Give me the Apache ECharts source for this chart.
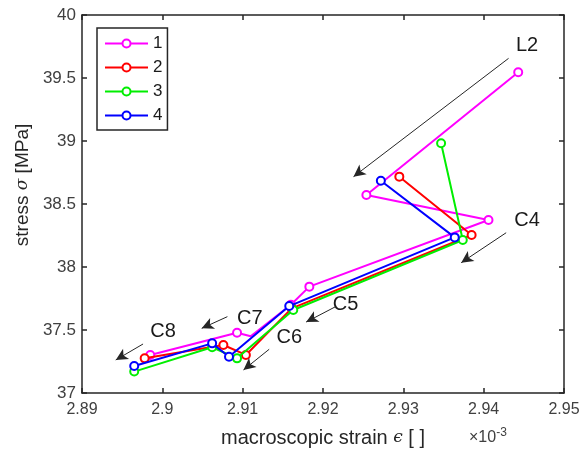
<!DOCTYPE html>
<html>
<head>
<meta charset="utf-8">
<script src="https://cdn.jsdelivr.net/npm/echarts@6/dist/echarts.min.js"></script>
<style>
  html, body { margin: 0; padding: 0; background: #fff; }
  #chart { width: 587px; height: 455px; }
</style>
</head>
<body>
<div id="chart"></div>
<script>
// ── data (strain in units of 1e-3, stress in MPa) ──
const seriesNames = ['1', '2', '3', '4'];
const seriesColors = ['#ff00ff', '#ff0000', '#00ee00', '#0000ff'];

const strain1 = [2.9443, 2.9254, 2.9406, 2.9183, 2.9160, 2.9110, 2.9093, 2.8985];
const stress1 = [39.545, 38.571, 38.373, 37.844, 37.700, 37.450, 37.478, 37.302];
const hidden1 = [5];   // vertex covered by the other curves in the original
const strain2 = [2.9295, 2.9385, 2.9161, 2.9104, 2.9076, 2.8978];
const stress2 = [38.717, 38.254, 37.672, 37.302, 37.381, 37.275];
const strain3 = [2.9347, 2.9374, 2.9163, 2.9093, 2.9062, 2.8965];
const stress3 = [38.982, 38.214, 37.659, 37.275, 37.363, 37.170];
const strain4 = [2.9272, 2.9364, 2.9158, 2.9083, 2.9062, 2.8965];
const stress4 = [38.685, 38.235, 37.690, 37.288, 37.394, 37.214];

// ── annotations (arrows + stage labels, data coords) ──
const annoLabels = ['L2', 'C4', 'C5', 'C6', 'C7', 'C8'];
const annoTextPos = [[2.9454, 39.76], [2.9454, 38.373], [2.9228, 37.706], [2.9158, 37.444], [2.9109, 37.595], [2.9001, 37.492]];
const arrowFrom = [[2.9431, 39.656], [2.9428, 38.272], [2.9215, 37.683], [2.9133, 37.347], [2.9081, 37.606], [2.8976, 37.389]];
const arrowTo   = [[2.9238, 38.717], [2.9372, 38.034], [2.9179, 37.563], [2.9101, 37.183], [2.9049, 37.513], [2.8942, 37.262]];

const axisColor = '#262626';
const fontFam = '"Liberation Sans", Arial, Helvetica, sans-serif';
const greekRich = { i: { fontFamily: '"DejaVu Serif", serif', fontStyle: 'italic', fontSize: 17, color: '#262626' } };

const pairs = [[strain1, stress1], [strain2, stress2], [strain3, stress3], [strain4, stress4]];

const series = pairs.map(([xs, ys], i) => ({
  name: seriesNames[i],
  type: 'line',
  xAxisIndex: 0, yAxisIndex: 0,
  data: xs.map((x, k) => (i === 0 && hidden1.includes(k))
    ? { value: [x, ys[k]], symbol: 'none' }
    : [x, ys[k]]),
  symbol: 'emptyCircle',
  symbolSize: 8,
  lineStyle: { width: 2, color: seriesColors[i] },
  itemStyle: { color: seriesColors[i], borderWidth: 1.6 },
  z: 3 + i,
  animation: false,
}));

// annotation carrier
series.push({
  type: 'line',
  xAxisIndex: 0, yAxisIndex: 0,
  data: [],
  silent: true,
  animation: false,
  markLine: {
    silent: true,
    symbol: ['none', 'arrow'],
    symbolSize: [9, 12],
    lineStyle: { color: '#262626', width: 1, type: 'solid' },
    label: { show: false },
    data: arrowFrom.map((f, i) => [{ coord: f }, { coord: arrowTo[i] }]),
  },
  markPoint: {
    silent: true,
    symbol: 'circle',
    symbolSize: 0,
    label: {
      show: true, position: 'inside', formatter: '{b}',
      color: '#1a1a1a', fontSize: 20, fontFamily: fontFam,
    },
    data: annoLabels.map((t, i) => ({ name: t, coord: annoTextPos[i] })),
  },
});

const fmt = v => String(parseFloat(v.toFixed(2)));

const chart = echarts.init(document.getElementById('chart'));
chart.setOption({
  animation: false,
  textStyle: { fontFamily: fontFam },
  grid: { left: 82, right: 23, top: 15, bottom: 62 },
  legend: {
    data: seriesNames,
    orient: 'vertical',
    left: 97, top: 28,
    itemWidth: 43, itemHeight: 10,
    itemGap: 7,
    padding: [7, 5, 6, 7],
    borderColor: '#262626', borderWidth: 1.5,
    backgroundColor: '#fff',
    textStyle: { color: '#1a1a1a', fontSize: 17, fontFamily: fontFam },
  },
  xAxis: [
    {
      type: 'value', min: 2.89, max: 2.95, interval: 0.01,
      name: 'macroscopic strain {i|ϵ} [ ]',
      nameLocation: 'middle', nameGap: 35,
      nameTextStyle: { color: '#262626', fontSize: 20, rich: greekRich },
      axisLine: { show: true, onZero: false, lineStyle: { color: axisColor, width: 1.5 } },
      axisTick: { show: true, inside: true, length: 5, lineStyle: { color: axisColor, width: 1.5 } },
      axisLabel: { color: '#404040', fontSize: 16, margin: 9, formatter: fmt },
      splitLine: { show: false },
    },
    {
      type: 'value', position: 'top', min: 2.89, max: 2.95, interval: 0.01,
      axisLine: { show: true, onZero: false, lineStyle: { color: axisColor, width: 1.5 } },
      axisTick: { show: true, inside: true, length: 5, lineStyle: { color: axisColor, width: 1.5 } },
      axisLabel: { show: false },
      splitLine: { show: false },
    },
  ],
  yAxis: [
    {
      type: 'value', min: 37, max: 40, interval: 0.5,
      name: 'stress {i|σ} [MPa]',
      nameLocation: 'middle', nameGap: 47,
      nameTextStyle: { color: '#262626', fontSize: 19, padding: [0, 0, 0, 38], rich: greekRich },
      axisLine: { show: true, onZero: false, lineStyle: { color: axisColor, width: 1.5 } },
      axisTick: { show: true, inside: true, length: 5, lineStyle: { color: axisColor, width: 1.5 } },
      axisLabel: { color: '#404040', fontSize: 17, margin: 6, formatter: v => String(parseFloat(v.toFixed(1))) },
      splitLine: { show: false },
    },
    {
      type: 'value', position: 'right', min: 37, max: 40, interval: 0.5,
      axisLine: { show: true, onZero: false, lineStyle: { color: axisColor, width: 1.5 } },
      axisTick: { show: true, inside: true, length: 5, lineStyle: { color: axisColor, width: 1.5 } },
      axisLabel: { show: false },
      splitLine: { show: false },
    },
  ],
  graphic: [{
    type: 'text',
    left: 469, top: 427,
    style: {
      text: '×10{s|-3}',
      fill: '#404040',
      font: '16px ' + fontFam,
      rich: { s: { fontSize: 12, verticalAlign: 'top', padding: [0, 0, 10, 0], fill: '#404040' } },
    },
  }],
  series,
});
</script>
</body>
</html>
